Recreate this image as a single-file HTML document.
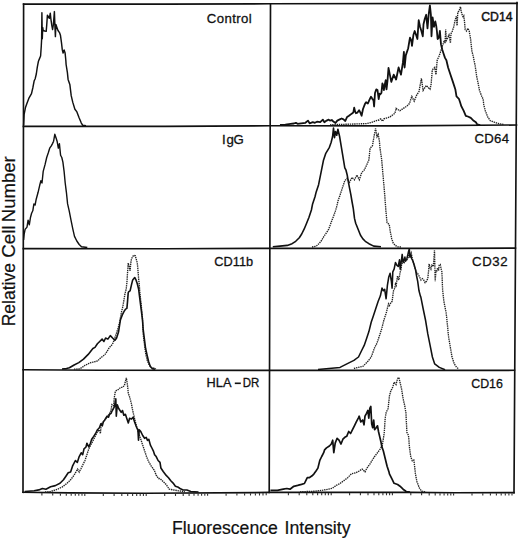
<!DOCTYPE html>
<html><head><meta charset="utf-8"><style>
html,body{margin:0;padding:0;background:#fff;width:520px;height:539px;overflow:hidden}
svg{display:block}
text{font-family:"Liberation Sans",sans-serif;fill:#111}
.s{fill:none;stroke:#111;stroke-linejoin:round}
.d{fill:none;stroke:#222;stroke-width:1.35;stroke-dasharray:1.4 0.8}
</style></head><body>
<svg width="520" height="539" viewBox="0 0 520 539">
<g stroke="#111" stroke-width="1.65" fill="none" stroke-linecap="square">
<path d="M23.6 4.2 L165 4.2 L270.5 3.8 L517 3.4"/>
<path d="M23.4 126.3 L165 126.3 L270 125.8 L395 125.8 L516.5 125"/>
<path d="M23.3 248.6 L165 248.7 L269.6 248.3 L455 248.3 L515.4 248.1"/>
<path d="M23.1 369.8 L100 370.3 L269 370.4 L455 370.4 L514.4 370.3"/>
<path d="M23 492.3 L70 492.9 L145 493.2 L255 492.6 L269 492.4 L410 492.3 L455 492.7 L514 492.6"/>
<path d="M23.6 4.2 L23 492.3"/>
<path d="M270.5 3.8 L269.2 492.4"/>
<path d="M517 2.5 L514 492.6"/>
</g>
<path stroke="#333" stroke-width="1.1" fill="none" d="M41.9 493.1V495.4M52.7 493.3V495.6M60.4 493.4V495.7M66.3 493.5V495.8M71.2 493.5V495.8M75.3 493.5V495.8M78.8 493.5V495.8M82.0 493.5V495.8M84.8 493.6V495.9M103.3 493.6V495.9M114.1 493.7V496.0M121.8 493.7V496.0M127.7 493.7V496.0M132.6 493.8V496.1M136.7 493.8V496.1M140.2 493.8V496.1M143.4 493.8V496.1M146.2 493.8V496.1M164.7 493.7V496.0M175.5 493.6V495.9M183.2 493.6V495.9M189.1 493.6V495.9M194.0 493.5V495.8M198.1 493.5V495.8M201.6 493.5V495.8M204.8 493.5V495.8M207.6 493.5V495.8M226.1 493.4V495.7M236.9 493.3V495.6M244.6 493.3V495.6M250.5 493.2V495.5M255.4 493.2V495.5M259.5 493.1V495.4M263.0 493.1V495.4M266.2 493.0V495.3M288.4 493.0V495.3M299.2 493.0V495.3M306.8 493.0V495.3M312.8 493.0V495.3M317.6 493.0V495.3M321.7 493.0V495.3M325.3 493.0V495.3M328.4 493.0V495.3M331.2 493.0V495.3M349.6 492.9V495.2M360.4 492.9V495.2M368.0 492.9V495.2M374.0 492.9V495.2M378.8 492.9V495.2M382.9 492.9V495.2M386.5 492.9V495.2M389.6 492.9V495.2M392.4 492.9V495.2M410.8 492.9V495.2M421.6 493.0V495.3M429.2 493.1V495.4M435.2 493.1V495.4M440.0 493.2V495.5M444.1 493.2V495.5M447.7 493.2V495.5M450.8 493.3V495.6M453.6 493.3V495.6M472.0 493.3V495.6M482.8 493.3V495.6M490.4 493.2V495.5M496.4 493.2V495.5M501.2 493.2V495.5M505.3 493.2V495.5M508.9 493.2V495.5M512.0 493.2V495.5"/>
<polyline class="d" points="330.0,124.8 366.7,123.6 371.6,122.4 376.5,120.6 379.0,120.0 380.8,118.8 382.6,121.2 383.9,118.8 386.3,118.1 390.0,116.9 394.9,113.3 396.1,108.4 399.8,110.8 403.4,108.4 407.0,106.0 409.4,103.6 411.8,96.4 414.2,101.2 416.6,95.2 419.0,91.6 421.4,78.3 423.1,90.4 426.3,85.5 428.7,88.0 430.0,89.2 431.1,84.3 432.3,69.9 434.7,67.5 436.0,74.7 437.2,60.2 438.9,56.5 440.3,52.5 441.6,48.5 443.0,44.4 444.3,40.4 445.0,43.1 445.7,29.6 446.3,40.4 447.7,37.7 449.0,35.0 450.4,43.1 451.0,33.6 452.4,31.0 453.7,26.9 455.1,20.2 456.4,16.2 457.1,25.6 457.8,12.1 459.1,10.8 460.5,6.7 461.1,10.8 461.8,13.5 463.2,17.5 463.8,16.2 464.5,21.5 465.2,29.6 466.5,31.0 467.9,28.3 469.2,31.0 470.6,39.0 471.9,51.1 473.3,56.5 473.7,58.7 475.2,65.9 476.6,76.0 478.1,83.2 479.5,90.5 481.7,96.2 483.1,99.1 483.8,104.9 485.3,110.7 487.5,116.5 490.3,120.8 494.7,122.3 499.0,123.7 503.4,124.4"/>
<polyline class="d" points="312.0,247.0 314.6,246.6 317.0,245.5 319.3,243.3 321.5,240.5 323.9,236.4 326.3,233.0 328.6,229.4 330.4,224.5 332.0,220.1 333.8,215.5 335.5,210.8 337.0,205.5 337.8,201.6 340.2,194.6 342.5,187.6 344.8,180.7 347.1,178.4 349.6,182.2 352.0,177.4 354.5,179.8 356.9,175.0 359.3,179.8 361.7,172.6 364.1,170.2 366.5,165.4 368.9,159.8 370.1,148.2 372.4,145.9 374.0,136.6 375.6,128.5 377.0,136.6 378.2,134.3 379.4,141.2 380.0,148.2 381.7,159.8 383.3,178.4 384.7,194.6 385.9,210.8 387.0,222.4 389.3,224.8 390.3,231.7 391.7,238.7 393.3,243.3 395.6,245.6 397.9,246.8 401.0,247.0"/>
<polyline class="d" points="74.0,369.2 79.4,368.9 82.0,367.5 84.7,365.5 87.4,364.2 90.1,362.8 92.7,362.2 95.4,361.5 98.1,360.8 99.4,358.8 102.1,356.8 104.8,354.8 107.4,350.8 109.4,347.5 111.4,345.5 112.8,343.4 114.1,340.1 115.5,336.1 116.8,332.1 118.1,328.1 119.5,322.7 120.5,317.4 121.5,312.0 122.8,306.7 123.5,302.7 124.9,294.2 126.2,289.0 126.9,282.5 127.5,273.4 128.2,263.0 129.2,266.9 130.1,270.8 130.8,263.0 131.4,259.1 132.7,256.5 134.0,255.2 135.3,255.8 136.6,260.4 137.3,263.0 137.9,269.5 138.6,278.6 139.2,283.8 139.9,292.9 141.2,304.5 142.5,318.8 143.2,334.4 144.4,343.8 145.6,353.2 147.2,360.3 149.1,365.0 151.5,367.4 156.0,368.8"/>
<polyline class="d" points="353.9,368.5 363.1,366.2 367.7,361.6 371.2,357.0 374.6,347.7 377.0,343.1 379.3,336.2 381.6,329.3 383.9,320.0 386.2,313.1 388.5,303.9 389.4,305.6 390.8,302.9 392.1,301.5 392.8,296.1 393.5,290.8 394.8,288.1 395.5,284.0 396.2,285.4 396.8,281.3 397.5,276.0 398.8,280.0 399.5,276.0 400.2,271.9 400.9,270.6 401.5,265.2 402.9,261.2 404.2,262.5 405.6,259.8 406.9,259.8 408.3,257.1 409.3,251.7 410.3,255.8 411.2,253.1 412.3,258.5 413.6,263.8 415.0,267.9 416.3,271.9 418.4,274.6 419.7,277.3 421.0,280.0 422.4,278.6 423.7,280.0 425.1,282.7 426.4,281.3 427.8,278.6 428.5,271.9 429.1,263.8 430.1,267.9 430.9,269.2 431.8,265.2 433.2,266.5 433.8,261.2 434.5,250.4 435.2,281.3 435.9,270.6 436.5,271.9 437.6,267.9 438.5,270.6 439.2,265.2 440.3,264.5 441.2,269.2 441.9,271.9 442.6,289.4 443.3,296.1 443.9,301.5 446.2,313.1 447.4,324.6 448.5,336.2 450.4,347.7 452.0,357.0 454.3,363.9 456.6,367.4 458.9,369.0"/>
<polyline class="d" points="45.0,492.0 50.6,491.5 57.6,489.2 62.4,486.8 67.1,483.3 70.6,479.8 74.1,475.1 77.6,469.2 79.2,472.0 81.2,468.2 83.1,464.3 85.0,460.5 86.9,454.7 88.8,448.9 91.7,443.2 94.6,437.4 97.5,431.6 99.4,429.7 100.4,433.5 101.3,423.9 103.3,422.0 106.2,418.2 109.0,414.3 111.0,410.5 111.9,404.7 113.5,405.7 114.4,397.0 115.4,391.2 116.7,390.3 118.7,389.3 120.6,387.4 122.5,387.4 124.4,385.5 126.3,377.8 127.3,383.5 128.3,393.2 129.6,397.0 131.2,402.8 132.7,410.5 134.0,416.2 135.4,422.0 136.9,427.8 138.8,433.5 140.8,439.3 142.7,445.1 144.6,450.8 146.5,456.6 148.5,461.4 151.3,466.2 154.2,470.1 156.2,475.1 158.5,478.6 160.0,478.5 163.1,481.5 166.2,484.6 169.2,489.2 173.8,490.0 178.5,490.8 185.0,491.8"/>
<polyline class="d" points="300.0,491.8 315.0,491.2 322.7,490.2 328.5,489.2 332.3,488.3 336.2,485.4 340.0,483.5 343.8,480.6 347.7,477.7 351.5,473.8 355.4,472.9 359.2,471.0 362.1,469.0 365.0,471.9 366.9,468.1 369.8,464.2 372.7,459.4 374.6,456.5 377.5,452.7 380.4,448.8 382.3,445.0 384.2,433.5 385.2,418.1 386.2,412.3 388.1,408.5 389.4,396.2 390.6,391.5 392.9,386.8 394.1,382.1 396.0,384.5 397.6,378.6 398.8,377.4 400.0,382.1 401.6,389.2 403.1,398.6 404.7,405.6 405.9,412.7 406.9,432.3 408.5,435.4 409.5,447.7 410.8,456.9 412.3,460.8 413.8,460.0 414.6,466.2 415.4,473.8 416.9,481.5 419.2,487.7 421.5,491.1 426.0,492.0"/>
<polyline class="s" stroke-width="1.45" points="23.6,125.3 24.1,114.6 25.4,107.8 26.8,103.8 28.8,98.4 31.5,93.6 32.9,87.5 34.2,80.7 35.2,78.7 36.3,74.0 37.3,67.2 38.3,61.8 39.1,59.6 40.6,56.0 41.3,45.8 41.6,39.7 41.9,12.7 42.3,38.7 42.7,27.4 43.2,30.5 44.7,31.0 46.2,31.3 46.7,25.4 47.4,15.2 48.3,16.7 49.3,18.3 50.3,13.2 50.8,18.3 51.8,25.4 52.6,29.5 53.4,24.4 54.4,11.6 54.9,25.4 55.4,36.6 55.9,24.4 56.9,27.4 58.0,30.5 59.5,32.6 60.5,35.6 61.5,42.8 62.3,49.9 63.1,53.0 64.1,49.9 65.1,53.0 65.8,60.0 66.1,64.5 67.4,72.6 68.1,79.4 69.9,84.8 71.2,95.7 72.8,102.4 74.9,109.2 76.9,111.9 78.9,117.3 81.2,122.8 82.6,125.2 86.0,125.8"/>
<polyline class="s" stroke-width="1.8" points="280.0,125.0 285.3,124.6 290.6,123.9 293.8,123.5 295.9,122.8 297.5,123.8 301.2,123.3 305.4,122.8 308.0,120.6 309.6,123.3 312.8,122.2 314.9,122.8 317.0,121.7 320.2,122.2 322.9,119.6 324.4,122.2 326.6,120.6 328.7,119.6 330.0,120.6 331.8,120.0 333.7,121.8 335.5,123.0 337.3,120.6 339.8,119.4 341.6,118.5 343.5,119.4 345.3,121.0 347.1,116.9 349.0,115.7 351.4,113.9 353.3,112.6 354.2,107.7 355.1,111.4 355.9,113.2 357.5,112.6 359.1,110.2 360.4,112.6 361.6,115.7 363.0,109.0 364.9,104.1 366.1,102.2 367.9,103.5 369.2,100.4 371.0,96.7 372.2,98.6 373.5,100.4 374.1,106.5 375.0,93.0 376.3,89.4 377.5,90.0 378.7,99.2 379.6,93.7 380.4,94.3 381.4,93.0 382.4,83.3 383.2,85.7 383.9,90.0 384.8,84.5 385.7,80.2 386.5,89.4 387.5,80.8 388.5,68.0 388.9,69.9 391.3,81.9 393.7,74.7 396.1,79.5 398.6,67.5 401.0,74.7 402.9,62.7 403.9,51.8 404.6,67.5 405.8,55.4 408.2,48.2 409.4,41.0 410.0,37.7 411.3,40.4 412.0,45.8 413.4,35.0 414.7,31.0 416.1,35.0 417.4,39.0 418.7,20.2 420.1,26.9 421.4,31.0 422.8,36.3 423.5,24.2 424.8,18.8 426.2,14.8 427.5,28.3 428.8,13.5 429.9,5.4 430.9,14.8 431.5,36.3 432.6,17.5 434.0,26.9 435.3,21.5 436.2,25.6 436.9,31.0 437.6,39.0 438.9,37.7 439.9,31.0 441.0,44.4 442.3,49.8 443.6,53.8 445.0,57.9 446.4,60.2 448.1,67.5 450.5,74.7 452.9,81.9 455.3,89.2 456.5,96.4 458.9,98.8 460.0,102.0 461.4,106.4 463.6,110.7 465.8,115.8 467.9,116.5 470.8,117.9 473.7,120.8 475.9,122.3 477.3,124.4 480.2,125.1"/>
<polyline class="s" stroke-width="1.4" points="23.6,240.0 24.2,234.0 25.1,229.4 27.0,227.1 28.1,220.1 29.3,224.8 30.4,217.8 31.6,213.2 32.8,210.8 33.9,203.9 35.1,205.0 36.2,199.2 38.1,192.3 39.7,185.3 40.9,180.7 42.0,183.0 43.2,171.4 45.1,164.4 46.7,157.5 48.3,152.8 49.7,148.2 51.3,145.9 52.5,143.6 53.6,141.2 54.8,134.3 56.0,137.8 57.1,141.2 58.3,148.2 59.4,143.6 60.6,155.2 61.8,157.5 62.9,162.1 64.1,171.4 65.2,183.0 66.4,192.3 67.6,203.9 69.2,210.8 71.0,220.1 72.9,229.4 74.5,236.4 76.8,241.0 79.2,244.5 81.5,246.8 87.3,247.5"/>
<polyline class="s" stroke-width="1.6" points="272.8,246.8 280.0,246.1 287.3,245.4 292.1,243.7 295.7,241.3 299.3,237.7 301.7,234.0 304.1,229.2 306.6,223.2 309.0,217.2 311.4,210.0 312.6,203.9 315.0,196.7 316.2,191.9 318.6,184.7 319.8,178.6 321.5,170.2 323.4,160.6 325.8,153.3 329.4,147.3 331.1,142.5 332.6,136.5 333.5,128.0 334.5,137.7 335.5,131.6 336.7,135.3 337.9,129.2 339.6,136.5 341.2,146.1 342.4,153.3 343.6,160.6 344.8,167.8 346.0,170.2 347.2,175.0 348.4,182.2 349.6,188.3 350.8,194.3 352.0,201.5 353.3,208.7 354.5,218.4 355.7,223.2 358.1,229.2 360.5,235.3 362.9,238.9 365.3,241.3 368.9,243.7 373.7,246.1 381.0,246.8"/>
<polyline class="s" stroke-width="1.6" points="62.0,369.0 66.5,368.6 69.4,367.8 74.1,365.0 78.8,362.6 83.5,359.1 88.2,354.4 92.9,348.5 95.0,347.4 97.4,343.8 99.7,341.5 102.1,339.1 103.9,341.5 105.6,338.0 107.9,339.1 110.3,335.6 112.6,338.0 115.0,340.3 116.6,338.0 118.5,332.1 120.4,320.0 122.3,314.9 124.3,311.0 125.6,309.1 126.9,308.4 127.5,301.9 128.2,292.9 128.8,291.6 130.1,290.9 131.4,285.1 132.7,279.9 134.7,277.5 136.0,279.9 137.3,283.8 138.6,289.0 139.9,299.4 141.2,309.7 142.5,320.0 143.2,329.7 144.4,339.1 145.6,348.5 147.2,355.6 148.6,361.5 150.3,366.4 152.2,368.6 155.0,369.3"/>
<polyline class="s" stroke-width="1.55" points="318.0,369.6 340.0,367.4 346.9,363.9 353.9,360.4 358.5,357.0 361.9,350.0 364.2,345.4 366.6,338.5 368.9,331.6 371.2,322.3 373.5,315.4 375.8,308.5 378.1,301.5 380.4,295.8 382.0,288.1 383.4,290.8 384.7,289.4 386.1,298.8 387.4,285.4 388.7,277.3 390.1,273.3 391.4,281.3 392.1,288.1 392.8,271.9 394.1,269.2 395.5,262.5 396.8,265.2 398.2,266.5 399.5,259.8 400.2,269.2 401.3,261.2 402.2,254.4 403.1,262.5 404.2,259.8 404.9,257.1 405.6,261.2 406.9,258.5 407.6,255.8 408.5,251.7 409.3,249.0 409.9,257.1 410.7,254.4 411.6,258.5 413.0,261.2 414.3,265.2 415.7,270.6 416.6,276.0 417.7,281.3 419.0,290.8 420.4,296.1 420.8,296.9 423.1,308.5 425.5,320.0 427.8,333.9 430.1,345.4 432.4,357.0 434.7,363.9 439.3,367.4 445.1,369.7"/>
<polyline class="s" stroke-width="1.6" points="24.7,491.5 34.1,490.8 38.8,489.9 42.4,488.5 45.9,489.2 50.6,486.8 55.3,485.6 60.0,483.3 63.5,479.8 65.9,476.2 68.2,472.7 70.6,472.0 72.5,466.2 75.4,460.5 77.3,462.4 79.2,456.6 81.2,452.8 82.7,454.7 84.0,448.9 86.0,447.0 86.9,443.2 88.8,447.0 90.4,443.2 91.7,439.3 93.7,436.4 95.6,433.5 97.5,429.7 99.4,427.8 100.8,423.9 102.3,425.8 103.3,422.0 104.6,420.1 105.8,418.2 107.1,416.2 108.5,417.2 109.6,414.3 111.0,413.3 112.3,410.5 113.5,408.5 114.4,406.6 115.8,398.9 116.3,416.2 117.3,404.7 118.7,408.5 120.0,410.5 121.2,412.4 122.5,410.5 123.8,415.3 125.4,414.3 127.3,420.1 128.3,423.0 129.6,418.2 131.5,419.1 133.1,417.2 134.6,422.0 136.0,425.8 136.9,427.8 137.9,429.7 138.5,440.3 139.2,429.7 140.8,431.6 142.7,435.5 144.6,438.3 146.2,437.4 147.5,440.3 148.8,439.3 150.4,445.1 151.9,448.0 153.3,450.8 154.6,454.7 156.2,456.6 158.1,460.5 160.0,462.4 160.9,468.0 163.2,471.5 166.2,475.4 168.5,477.7 170.8,480.8 173.1,483.1 175.4,486.2 177.7,486.9 180.0,488.5 183.1,490.0 186.9,490.0 190.8,491.5 198.5,492.0"/>
<polyline class="s" stroke-width="1.7" points="270.4,490.4 277.4,490.4 283.3,489.2 286.8,488.5 290.0,489.2 293.8,486.3 297.7,485.4 301.5,484.4 304.4,483.5 306.3,479.6 307.3,477.7 309.2,477.7 312.1,475.8 314.0,473.8 316.0,471.0 317.9,468.1 319.8,460.4 321.7,456.5 323.7,452.7 324.6,449.8 326.5,447.9 329.4,446.0 331.3,444.0 332.7,440.2 333.8,452.7 335.2,443.1 337.1,438.3 339.0,440.2 341.0,444.0 342.9,439.2 344.8,437.3 346.7,436.3 348.7,431.5 350.6,433.5 352.5,429.6 354.4,425.8 356.3,421.9 358.3,418.1 359.2,416.2 360.8,421.9 362.7,420.0 364.0,424.8 365.0,416.2 366.5,413.3 367.9,410.4 368.8,418.1 369.8,408.5 370.8,406.5 371.7,423.8 372.7,427.7 373.7,420.0 374.6,429.6 376.2,427.7 377.5,425.8 378.5,431.5 379.4,435.4 380.8,441.2 381.9,446.9 383.3,450.8 385.2,458.5 387.1,466.2 389.0,471.9 389.4,473.9 391.8,478.6 394.1,483.3 397.6,484.5 400.0,486.2 403.1,489.2 406.2,491.5 410.0,492.0"/>

<g font-size="13.2" stroke="#111" stroke-width="0.3">
<text x="206.8" y="22.5" textLength="45" lengthAdjust="spacing">Control</text>
<text x="481.3" y="21.3" textLength="31.2" lengthAdjust="spacingAndGlyphs" stroke-width="0.5">CD14</text>
<text x="222 226.4 233.5" y="143.6">IgG</text>
<text x="474.4" y="143.3" textLength="34.6" lengthAdjust="spacing">CD64</text>
<text x="214.3" y="265.7" textLength="38.8" lengthAdjust="spacingAndGlyphs">CD11b</text>
<text x="472.1" y="266.1" textLength="35.4" lengthAdjust="spacing">CD32</text>
<text x="206.6" y="387.4" textLength="24.8" lengthAdjust="spacingAndGlyphs">HLA</text><rect x="234.8" y="382.5" width="6" height="1.6" fill="#111" stroke="none"/><text x="242.8" y="387.4" textLength="16.6" lengthAdjust="spacingAndGlyphs">DR</text>
<text x="471.2" y="388.2" textLength="31.7" lengthAdjust="spacingAndGlyphs">CD16</text>
</g>
<g font-size="18" stroke="#111" stroke-width="0.2">
<text x="172.0" y="533.6" textLength="105.8" lengthAdjust="spacingAndGlyphs">Fluorescence</text>
<text x="284.6" y="533.6" textLength="66" lengthAdjust="spacingAndGlyphs">Intensity</text>
</g>
<g font-size="17.8" stroke="#111" stroke-width="0.2">
<text transform="translate(15.3 326.3) rotate(-90)" textLength="63.3" lengthAdjust="spacingAndGlyphs">Relative</text>
<text transform="translate(15.3 257.8) rotate(-90)" textLength="32.3" lengthAdjust="spacingAndGlyphs">Cell</text>
<text transform="translate(15.3 222.2) rotate(-90)" textLength="65.9" lengthAdjust="spacingAndGlyphs">Number</text>
</g>
</svg>
</body></html>
